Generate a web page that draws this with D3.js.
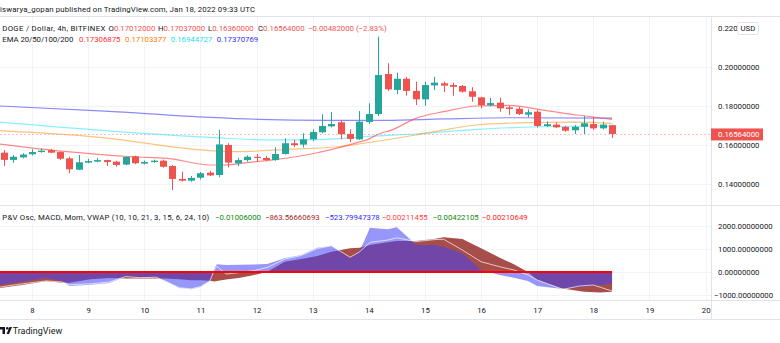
<!DOCTYPE html>
<html><head><meta charset="utf-8">
<script src="https://cdn.jsdelivr.net/npm/d3@7"></script>
<style>body{margin:0;background:#fff;overflow:hidden;} svg{display:block;font-family:Roboto,"Liberation Sans",sans-serif;}</style>
</head><body><svg id="c" width="780" height="343"></svg>
<script>
// ---- data ----
const firstCandleHour = 12;   // Jan 7 12:00, hours since Jan 7 00:00
const barHours = 4;
const open  = [0.1561,0.1524,0.1537,0.1553,0.1564,0.1574,0.1564,0.1532,0.1474,0.1510,0.1515,0.1523,0.1515,0.1500,0.1542,0.1505,0.1513,0.1520,0.1493,0.1427,0.1418,0.1433,0.1459,0.1447,0.1600,0.1507,0.1523,0.1540,0.1534,0.1523,0.1554,0.1609,0.1602,0.1629,0.1665,0.1695,0.1716,0.1656,0.1629,0.1717,0.1758,0.1962,0.1881,0.1938,0.1876,0.1833,0.1904,0.1915,0.1906,0.1901,0.1874,0.1843,0.1803,0.1816,0.1792,0.1785,0.1755,0.1770,0.1697,0.1704,0.1692,0.1675,0.1693,0.1707,0.1685,0.17012];
const high  = [0.1574,0.1549,0.1558,0.1578,0.1583,0.1580,0.1568,0.1540,0.1549,0.1529,0.1534,0.1525,0.1520,0.1541,0.1546,0.1521,0.1525,0.1525,0.1498,0.1464,0.1442,0.1462,0.1467,0.1677,0.1609,0.1534,0.1547,0.1554,0.1544,0.1588,0.1634,0.1626,0.1660,0.1680,0.1757,0.1768,0.1728,0.1680,0.1773,0.1813,0.2153,0.2017,0.1969,0.1948,0.1923,0.1923,0.1948,0.1923,0.1918,0.1906,0.1895,0.1846,0.1840,0.1841,0.1799,0.1795,0.1782,0.1779,0.1720,0.1715,0.1699,0.1702,0.1748,0.1744,0.1719,0.17037];
const low   = [0.1493,0.1510,0.1532,0.1547,0.1561,0.1558,0.1523,0.1456,0.1472,0.1507,0.1512,0.1493,0.1489,0.1497,0.1502,0.1501,0.1509,0.1484,0.1370,0.1413,0.1413,0.1424,0.1442,0.1435,0.1486,0.1493,0.1515,0.1515,0.1518,0.1520,0.1551,0.1589,0.1587,0.1621,0.1660,0.1690,0.1629,0.1615,0.1626,0.1707,0.1748,0.1876,0.1859,0.1852,0.1804,0.1800,0.1881,0.1870,0.1852,0.1867,0.1821,0.1787,0.1797,0.1770,0.1753,0.1753,0.1741,0.1689,0.1692,0.1686,0.1668,0.1656,0.1656,0.1677,0.1680,0.16360];
const close = [0.1524,0.1540,0.1551,0.1564,0.1571,0.1561,0.1530,0.1476,0.1512,0.1518,0.1523,0.1513,0.1498,0.1539,0.1507,0.1513,0.1520,0.1489,0.1427,0.1418,0.1432,0.1456,0.1445,0.1603,0.1510,0.1523,0.1540,0.1534,0.1523,0.1554,0.1609,0.1599,0.1629,0.1666,0.1697,0.1707,0.1655,0.1631,0.1719,0.1758,0.1957,0.1884,0.1938,0.1876,0.1833,0.1906,0.1918,0.1903,0.1897,0.1872,0.1846,0.1803,0.1814,0.1787,0.1784,0.1758,0.1767,0.1697,0.1706,0.1690,0.1673,0.1693,0.1711,0.1685,0.1704,0.16564];

// EMA lines: [hour, value]
const ema20  = [[10.3,0.1605],[39,0.1566],[67,0.1540],[82,0.1532],[100,0.1498],[106,0.1498],[116,0.1510],[126,0.1523],[145,0.1558],[163,0.1612],[168,0.1630],[172,0.1655],[178,0.1677],[188,0.1736],[200,0.1770],[214,0.1799],[228,0.1802],[242,0.1779],[257,0.1753],[272,0.17307]];
const ema50  = [[10.3,0.1673],[53,0.1639],[100,0.1571],[112,0.1566],[134,0.1578],[155,0.1591],[166,0.1609],[188,0.1651],[200,0.1677],[214,0.1702],[236,0.1714],[257,0.1717],[272,0.17103]];
const ema100 = [[10.3,0.1717],[100,0.1639],[126,0.1626],[145,0.1627],[171,0.1646],[188,0.1656],[214,0.1680],[242,0.1693],[266,0.1697],[272,0.16945]];
const ema200 = [[10.3,0.1799],[55,0.1773],[100,0.1741],[121,0.1731],[150,0.1726],[175,0.1726],[200,0.1733],[230,0.1739],[272,0.17371]];

// oscillator pane: hours and values
const oscHours = [10.3,19,30,37,40,49,57,64,70,77,81,87,92,96,100,102,103,107,113,119,124.5,132,139,146,152,160,164,168.5,176,180,186,188,196,200,208,216,224,230,236,240,250,260,267,272];
const macdVals = [-700,-585,-410,-470,-470,-320,-260,-290,-290,-290,-290,-320,-365,-365,-380,-420,-400,-330,-250,-130,0,450,570,700,890,1040,1065,1185,1300,1360,1360,1360,1450,1520,1450,1040,630,340,0,-350,-715,-870,-900,-864];
const momVals  = [-555,-440,-260,-410,-615,-555,-480,-205,-220,-220,-410,-700,-760,-660,-410,150,340,310,320,330,350,600,745,1065,1150,600,890,1945,1870,1960,1400,1185,1185,1110,820,90,-130,-250,-395,-615,-740,-650,-570,-524];
const sigHours = [10.3,19,30,37,40,49,57,64,70,77,81,87,92,96,100,102,103,107,113,119,124.5,132,139,146,152,160,164,168.5,176,180,186,188,196,200,208,216,224,230,236,240,244,251,258,264,267,272];
const sigVals  = [-660,-530,-390,-440,-560,-520,-440,-200,-250,-230,-400,-690,-740,-640,-400,100,250,-90,-20,60,200,560,720,1030,1150,650,880,1300,1400,1500,1380,1330,1420,1435,965,450,230,90,-130,-350,-500,-760,-615,-570,-670,-835];

const priceTicks = [0.14,0.16,0.18,0.20];
const oscTicks = [-1000,0,1000,2000];
const dayTickHours = [24,48,72,96,120,144,168,192,216,240,264,288,312];
const dayLabels = ["8","9","10","11","12","13","14","15","16","17","18","19","20"];
const lastPrice = 0.16564;

// ---- chart ----
const svg = d3.select("#c");
const W = 780, axisX = 711;
const x = d3.scaleLinear().domain([10.32, 314.3]).range([0, axisX]);
const yP = d3.scaleLinear().domain([0.14, 0.20]).range([184.2, 66.6]);
const yO = d3.scaleLinear().domain([-1000, 2000]).range([294.8, 226.4]);
const up = "#26a69a", down = "#ef5350", txt = "#131722", grid = "#f0f3fa", border = "#e0e3eb";

const defs = svg.append("defs");
defs.append("clipPath").attr("id","cp").append("rect").attr("x",0).attr("y",17).attr("width",axisX).attr("height",188.5);
defs.append("clipPath").attr("id","co").append("rect").attr("x",0).attr("y",206).attr("width",axisX).attr("height",94);

// grids
const g = svg.append("g");
dayTickHours.forEach(h => {
  const xx = Math.round(x(h)) + 0.5;
  g.append("line").attr("x1",xx).attr("x2",xx).attr("y1",17).attr("y2",300).attr("stroke",grid);
});
priceTicks.forEach(p => {
  const yy = Math.round(yP(p)) + 0.5;
  g.append("line").attr("x1",0).attr("x2",axisX).attr("y1",yy).attr("y2",yy).attr("stroke",grid);
});
oscTicks.forEach(v => {
  const yy = Math.round(yO(v)) + 0.5;
  g.append("line").attr("x1",0).attr("x2",axisX).attr("y1",yy).attr("y2",yy).attr("stroke",grid);
});

// price pane
const pp = svg.append("g").attr("clip-path","url(#cp)");
pp.append("line").attr("x1",0).attr("x2",axisX).attr("y1",Math.round(yP(lastPrice))+0.5).attr("y2",Math.round(yP(lastPrice))+0.5)
  .attr("stroke",down).attr("stroke-opacity",0.35).attr("stroke-dasharray","2,2");

const emaLine = d3.line().x(d=>x(d[0])).y(d=>yP(d[1])).curve(d3.curveMonotoneX);
[[ema200,"#3c3cff"],[ema100,"#33e6ff"],[ema50,"#ff9a2e"],[ema20,"#ff3b3b"]].forEach(([d,c])=>{
  pp.append("path").attr("d",emaLine(d)).attr("fill","none").attr("stroke",c).attr("stroke-opacity",0.6).attr("stroke-width",1.2);
});

const candles = open.map((o,i)=>({h: firstCandleHour + barHours*i, o, hi: high[i], lo: low[i], c: close[i]}));
const cg = pp.append("g");
candles.forEach(d => {
  const col = d.c >= d.o ? up : down;
  const cx = Math.round(x(d.h));
  cg.append("line").attr("x1",cx+0.5).attr("x2",cx+0.5).attr("y1",yP(d.hi)).attr("y2",yP(d.lo)).attr("stroke",col).attr("stroke-width",1);
  const top = yP(Math.max(d.o,d.c)), bot = yP(Math.min(d.o,d.c));
  cg.append("rect").attr("x",cx-3).attr("width",7).attr("y",top).attr("height",Math.max(1,bot-top)).attr("fill",col);
});

// oscillator pane
const op = svg.append("g").attr("clip-path","url(#co)");
const macdArea = d3.area().x((d,i)=>x(oscHours[i])).y0(yO(0)).y1(d=>yO(d));
op.append("path").attr("d",macdArea(macdVals)).attr("fill","#a84e4a");
op.append("path").attr("d",macdArea(momVals)).attr("fill","rgb(66,66,246)").attr("fill-opacity",0.55);
const sigLine = d3.line().x((d,i)=>x(sigHours[i])).y(d=>yO(d));
op.append("path").attr("d",sigLine(sigVals)).attr("fill","none").attr("stroke","#ffffff").attr("stroke-opacity",0.75).attr("stroke-width",0.9);
op.append("line").attr("x1",0).attr("x2",x(oscHours[oscHours.length-1])).attr("y1",yO(0)).attr("y2",yO(0)).attr("stroke","#ff0000").attr("stroke-width",2);

// borders
const b = svg.append("g").attr("stroke",border);
b.append("line").attr("x1",0).attr("x2",W).attr("y1",16.5).attr("y2",16.5);
b.append("line").attr("x1",0).attr("x2",W).attr("y1",205.5).attr("y2",205.5);
b.append("line").attr("x1",0).attr("x2",W).attr("y1",300.5).attr("y2",300.5);
b.append("line").attr("x1",0).attr("x2",W).attr("y1",319.5).attr("y2",319.5);
b.append("line").attr("x1",axisX+0.5).attr("x2",axisX+0.5).attr("y1",17).attr("y2",319);

// axes
const fs = 7.8;
const pAxis = d3.axisRight(yP).tickValues(priceTicks).tickFormat(d3.format(".8f")).tickSize(0).tickPadding(7);
const pa = svg.append("g").attr("transform",`translate(${axisX},0)`).call(pAxis);
pa.select(".domain").remove();
pa.selectAll("text").attr("fill",txt).attr("font-size",fs).attr("font-family","Roboto");

const oAxis = d3.axisRight(yO).tickValues(oscTicks).tickFormat(v => (v<0?"\u2212":"") + d3.format(".8f")(Math.abs(v))).tickSize(0).tickPadding(7);
const oa = svg.append("g").attr("transform",`translate(${axisX},0)`).call(oAxis);
oa.select(".domain").remove();
oa.selectAll("text").attr("fill",txt).attr("font-size",fs).attr("font-family","Roboto").attr("dx",d=>d<0?-4:0);

const tAxis = d3.axisBottom(x).tickValues(dayTickHours).tickFormat((d,i)=>dayLabels[i]).tickSize(0).tickPadding(6);
const ta = svg.append("g").attr("transform","translate(0,301)").call(tAxis);
ta.select(".domain").remove();
ta.selectAll("text").attr("fill",txt).attr("font-size",fs).attr("font-family","Roboto");

// top label "0.220 USD"
svg.append("text").attr("x",718).attr("y",31).attr("font-size",fs).attr("fill",txt).text("0.220");
svg.append("rect").attr("x",737.5).attr("y",22.5).attr("width",21).attr("height",12).attr("rx",2).attr("fill","#fff").attr("stroke",border);
svg.append("text").attr("x",740.5).attr("y",31).attr("font-size",fs).attr("fill",txt).text("USD");

// last price label
const lpY = yP(lastPrice);
svg.append("rect").attr("x",axisX).attr("y",lpY-5.5).attr("width",52).attr("height",12).attr("fill",down);
svg.append("text").attr("x",718).attr("y",lpY+3.4).attr("font-size",fs).attr("fill","#fff").text(d3.format(".8f")(lastPrice));

// header texts
function t(xp, yp, s, c, len){
  const e = svg.append("text").attr("x",xp).attr("y",yp).attr("font-size",fs).attr("fill",c||txt).text(s);
  if (len) e.attr("textLength",len).attr("lengthAdjust","spacing");
  return e;
}
t(0, 12, "iswarya_gopan published on TradingView.com, Jan 18, 2022 09:33 UTC", null, 255);
t(2.3, 31, "DOGE / Dollar, 4h, BITFINEX", null, 103);
[["O","0.17012000",108.5],["H","0.17037000",158],["L","0.16360000",208],["C","0.16564000",258]].forEach(([k,v,xx])=>{
  const tx = svg.append("text").attr("x",xx).attr("y",31).attr("font-size",fs);
  tx.append("tspan").attr("fill",txt).text(k);
  tx.append("tspan").attr("fill",down).text(v);
});
t(308, 31, "\u22120.00482000 (\u22122.83%)", down);
t(2.3, 42, "EMA 20/50/100/200", null, 71);
t(79, 42, "0.17306875", "#ff3030");
t(125, 42, "0.17103377", "#ff8000");
t(170.7, 42, "0.16944727", "#1ee0f0");
t(216.7, 42, "0.17370769", "#3030ff");

// oscillator legend
t(2.3, 220, "P&V Osc, MACD, Mom, VWAP (10, 10, 21, 3, 15, 6, 24, 10)", null, 207);
t(215, 220, "\u22120.01006000", "#0a8a0a");
t(265, 220, "\u2212863.56660693", "#a52a2a");
t(325, 220, "\u2212523.79947378", "#3030ff");
t(381.7, 220, "\u22120.00211455", "#ff4040");
t(432.7, 220, "\u22120.00422105", "#0a8a0a");
t(481.7, 220, "\u22120.00210649", "#ff2020");

// TradingView logo
const lg = svg.append("g").attr("fill","#131722");
lg.append("rect").attr("x",0).attr("y",327).attr("width",5).attr("height",2.5);
lg.append("rect").attr("x",2.5).attr("y",327).attr("width",2.5).attr("height",7);
lg.append("circle").attr("cx",7.3).attr("cy",328.3).attr("r",1.3);
lg.append("path").attr("d","M9.5 327 L12 327 L9 334 L6.5 334 Z");
svg.append("text").attr("x",12.7).attr("y",334).attr("font-size",9).attr("fill",txt).text("TradingView");
</script></body></html>
